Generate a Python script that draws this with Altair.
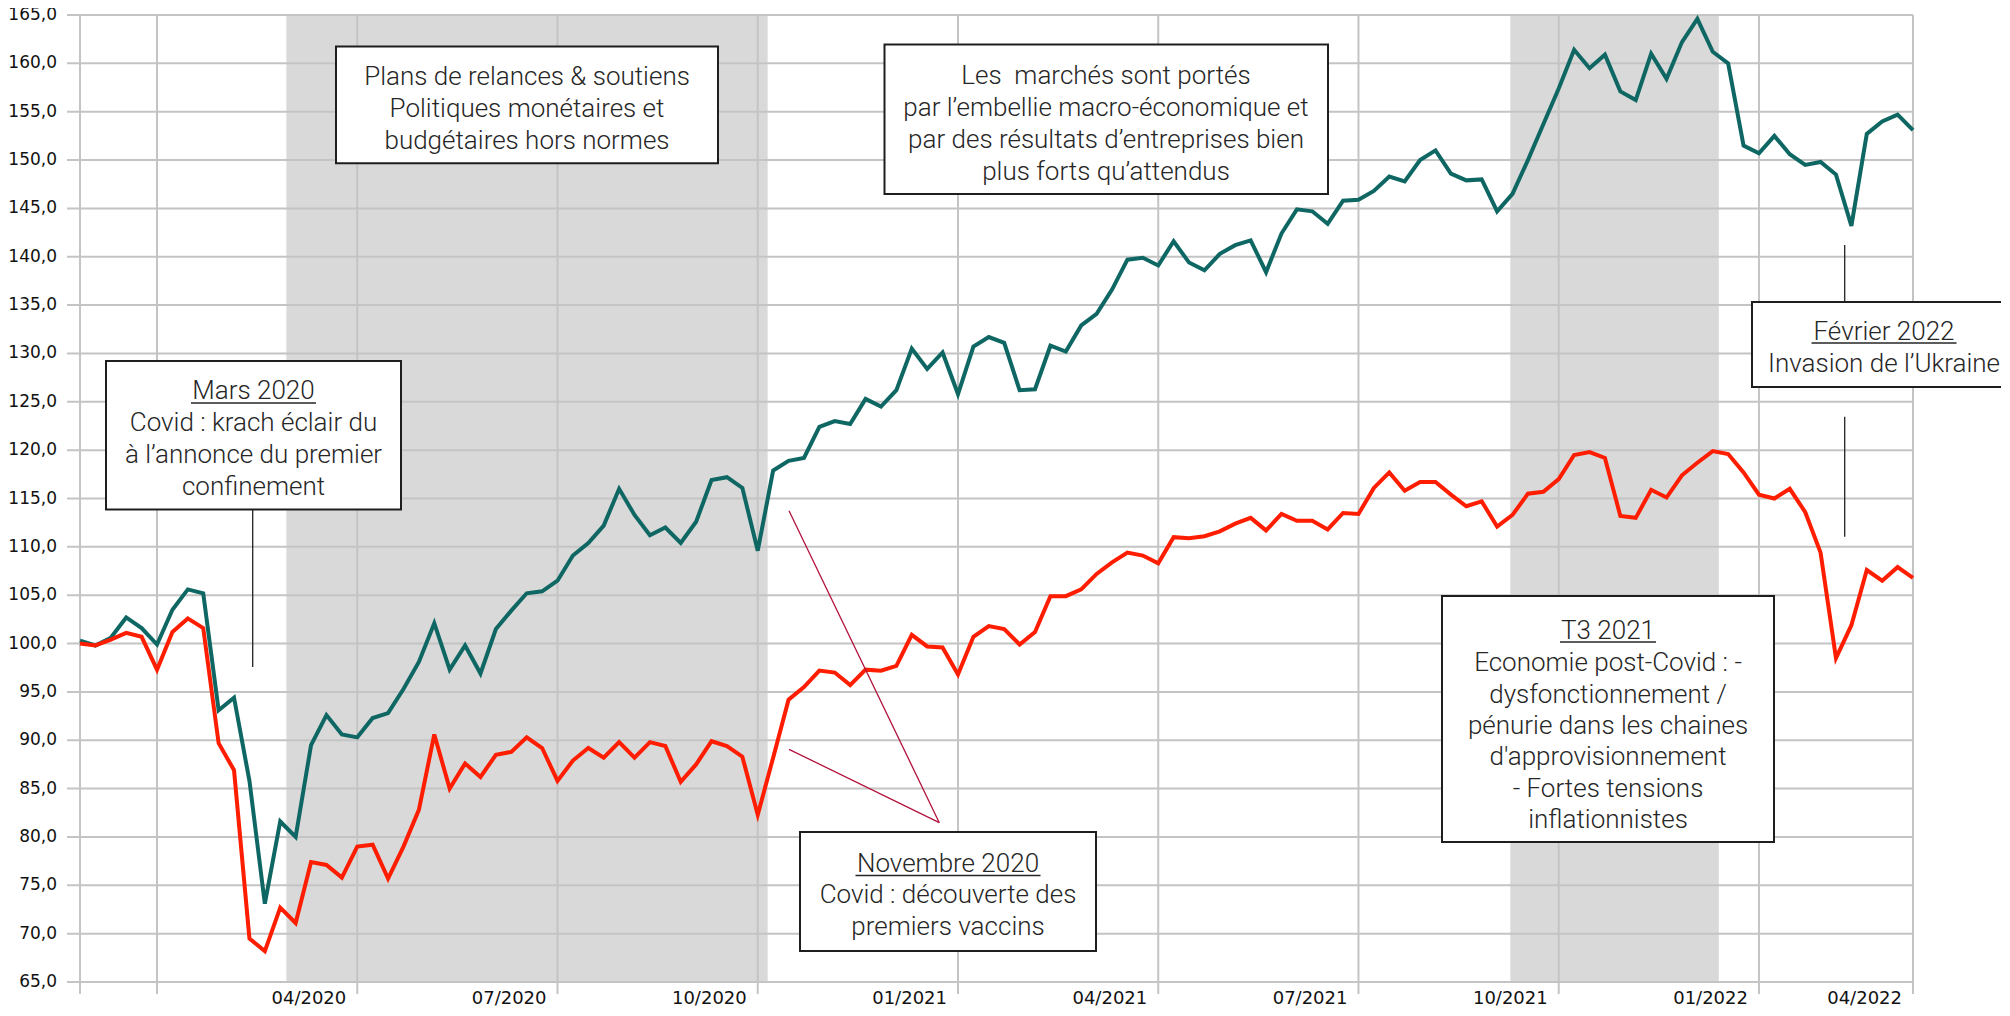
import altair as alt
import pandas as pd

# ---------------- data ----------------
START = "2019-12-27"
teal_values = [
    100.3, 99.8, 100.6, 102.7, 101.6, 99.9, 103.5, 105.6, 105.2, 93.1,
    94.4, 85.8, 73.1, 81.6, 80.0, 89.5, 92.6, 90.6, 90.3, 92.3,
    92.8, 95.3, 98.1, 102.1, 97.3, 99.8, 96.9, 101.5, 103.4, 105.2,
    105.4, 106.5, 109.1, 110.4, 112.2, 116.0, 113.3, 111.2, 112.0, 110.4,
    112.6, 116.9, 117.2, 116.1, 109.6, 117.9, 118.9, 119.2, 122.4, 123.0,
    122.7, 125.3, 124.5, 126.2, 130.5, 128.4, 130.1, 125.8, 130.7, 131.7,
    131.1, 126.2, 126.3, 130.8, 130.2, 132.9, 134.1, 136.6, 139.7, 139.9,
    139.1, 141.6, 139.4, 138.6, 140.3, 141.2, 141.7, 138.4, 142.4, 144.9,
    144.7, 143.4, 145.8, 145.9, 146.8, 148.3, 147.8, 150.0, 151.0, 148.6,
    147.9, 148.0, 144.7, 146.5, 150.0, 153.7, 157.4, 161.4, 159.5, 160.9,
    157.1, 156.2, 161.0, 158.4, 162.2, 164.6, 161.2, 160.0, 151.5, 150.7,
    152.5, 150.6, 149.5, 149.8, 148.5, 143.2, 152.7, 154.0, 154.7, 153.1,
]
red_values = [
    100.0, 99.8, 100.4, 101.1, 100.7, 97.3, 101.2, 102.6, 101.6, 89.7,
    86.9, 69.5, 68.2, 72.7, 71.1, 77.4, 77.1, 75.8, 79.0, 79.2,
    75.7, 79.0, 82.8, 90.6, 85.0, 87.6, 86.2, 88.5, 88.8, 90.3,
    89.2, 85.8, 87.9, 89.2, 88.2, 89.8, 88.2, 89.8, 89.4, 85.7,
    87.5, 89.9, 89.4, 88.3, 82.3, 88.2, 94.2, 95.5, 97.2, 97.0,
    95.7, 97.3, 97.2, 97.7, 100.9, 99.7, 99.6, 96.8, 100.7, 101.8,
    101.5, 99.9, 101.2, 104.9, 104.9, 105.6, 107.2, 108.4, 109.4, 109.1,
    108.3, 111.0, 110.9, 111.1, 111.6, 112.4, 113.0, 111.7, 113.4, 112.7,
    112.7, 111.8, 113.5, 113.4, 116.1, 117.7, 115.8, 116.7, 116.7, 115.4,
    114.2, 114.7, 112.1, 113.3, 115.5, 115.7, 117.0, 119.5, 119.8, 119.2,
    113.2, 113.0, 115.9, 115.1, 117.4, 118.7, 119.9, 119.6, 117.7, 115.4,
    115.0, 116.0, 113.6, 109.4, 98.5, 101.9, 107.6, 106.5, 107.9, 106.8,
]
series_names = ["Série 1", "Série 2"]

grid_dates = ["2019-12-27", "2020-01-31", "2020-05-01", "2020-07-31", "2020-10-30",
              "2021-01-29", "2021-04-30", "2021-07-30", "2021-10-29", "2022-01-28",
              "2022-04-08"]
tick_labels = ["", "", "04/2020", "07/2020", "10/2020", "01/2021", "04/2021",
               "07/2021", "10/2021", "01/2022", "04/2022"]
y_ticks = list(range(65, 170, 5))

shade_start = ["2020-03-29T19:00:00", "2021-10-07T00:00:00"]
shade_end = ["2020-11-03T12:00:00", "2022-01-09T18:00:00"]

# ---------------- tables ----------------
dates = pd.date_range(START, periods=len(teal_values), freq="7D").strftime("%Y-%m-%dT00:00:00")
series_df = pd.DataFrame({
    "date": list(dates) * 2,
    "v": teal_values + red_values,
    "s": [series_names[0]] * len(teal_values) + [series_names[1]] * len(red_values),
})
grid_df = pd.DataFrame({"d": [g + "T00:00:00" for g in grid_dates], "label": tick_labels})
ygrid_df = pd.DataFrame({"v": y_ticks})
shade_df = pd.DataFrame({"start": shade_start, "end": shade_end})

# ---------------- layout / style ----------------
W, H = 1833, 967
GRID = "#c4c4c4"
TEAL = "#0f6764"
RED = "#ff1d00"
TXT = "#262626"
AXFONT = "DejaVu Sans"

x_scale = alt.Scale(domain=[alt.DateTime(year=2019, month=12, date=27),
                            alt.DateTime(year=2022, month=4, date=8)], nice=False)
y_scale = alt.Scale(domain=[65, 165], nice=False, zero=False)

shade = alt.Chart(shade_df).mark_rect(color="#d9d9d9").encode(
    x=alt.X("start:T", scale=x_scale, axis=None), x2="end:T",
    y=alt.value(0), y2=alt.value(H))

# horizontal gridlines (extend left of the plot as tick marks)
hgrid = alt.Chart(ygrid_df).mark_rule(color=GRID, strokeWidth=2).encode(
    y=alt.Y("v:Q", scale=y_scale, axis=None),
    x=alt.value(-13), x2=alt.value(W))

# vertical gridlines (extend below the plot as tick marks)
vgrid = alt.Chart(grid_df).mark_rule(color=GRID, strokeWidth=2).encode(
    x=alt.X("d:T", scale=x_scale, axis=None), y=alt.value(0), y2=alt.value(H + 12))

ylabels = alt.Chart(ygrid_df).transform_calculate(
    lbl="replace(format(datum.v, '.1f'), '.', ',')"
).mark_text(align="right", baseline="middle", font=AXFONT, fontSize=17,
            color="#111111").encode(
    y=alt.Y("v:Q", scale=y_scale, axis=None), x=alt.value(-23), text="lbl:N")

def line_layer(name, color):
    return alt.Chart(series_df).transform_filter(alt.datum.s == name).mark_line(
        color=color, strokeWidth=4, strokeJoin="miter").encode(
        x=alt.X("date:T", scale=x_scale, axis=None),
        y=alt.Y("v:Q", scale=y_scale, axis=None))

teal_line = line_layer(series_names[0], TEAL)
red_line = line_layer(series_names[1], RED)

xlabels = alt.Chart(grid_df).mark_text(
    align="right", baseline="alphabetic", dx=-11, font=AXFONT, fontSize=18,
    color="#111111").encode(
    x=alt.X("d:T", scale=x_scale, axis=None), y=alt.value(H + 22), text="label:N")

# ---------------- annotations (pixel positions in the plot area) ----------------
boxes = pd.DataFrame([
    dict(x1=26, x2=321, y1=346, y2=494.5),     # Mars 2020
    dict(x1=256, x2=638, y1=31.5, y2=148.3),   # Plans de relances
    dict(x1=804.5, x2=1248, y1=29.5, y2=179),  # Les marchés
    dict(x1=720, x2=1016, y1=817, y2=936),     # Novembre 2020
    dict(x1=1362, x2=1694, y1=581, y2=827),    # T3 2021
    dict(x1=1672, x2=1960, y1=287, y2=372),    # Février 2022
])

texts = pd.DataFrame([
    dict(x=173.5, y=376, t="Mars 2020"),
    dict(x=173.5, y=408, t="Covid : krach éclair du"),
    dict(x=173.5, y=440, t="à l’annonce du premier"),
    dict(x=173.5, y=472, t="confinement"),
    dict(x=447, y=62, t="Plans de relances & soutiens"),
    dict(x=447, y=94, t="Politiques monétaires et"),
    dict(x=447, y=126, t="budgétaires hors normes"),
    dict(x=1026, y=61, t="Les\u00a0 marchés sont portés"),
    dict(x=1026, y=93, t="par l’embellie macro-économique et"),
    dict(x=1026, y=125, t="par des résultats d’entreprises bien"),
    dict(x=1026, y=157, t="plus forts qu’attendus"),
    dict(x=868, y=849, t="Novembre 2020"),
    dict(x=868, y=880, t="Covid : découverte des"),
    dict(x=868, y=912, t="premiers vaccins"),
    dict(x=1528, y=616, t="T3 2021"),
    dict(x=1528, y=648, t="Economie post-Covid : -"),
    dict(x=1528, y=680, t="dysfonctionnement /"),
    dict(x=1528, y=711, t="pénurie dans les chaines"),
    dict(x=1528, y=742, t="d'approvisionnement"),
    dict(x=1528, y=774, t="- Fortes tensions"),
    dict(x=1528, y=805, t="inflationnistes"),
    dict(x=1804, y=317, t="Février 2022"),
    dict(x=1804, y=349, t="Invasion de l’Ukraine"),
])

underlines = pd.DataFrame([
    dict(x1=111, x2=236, y=388),
    dict(x1=775.5, x2=960.5, y=860.5),
    dict(x1=1480, x2=1576, y=627),
    dict(x1=1731.5, x2=1876.5, y=328),
])

connectors = pd.DataFrame([
    dict(x1=172.7, y1=494.5, x2=172.7, y2=652, c="#222222"),
    dict(x1=859.3, y1=807.7, x2=709, y2=495.7, c="#b3123c"),
    dict(x1=859.3, y1=807.7, x2=709, y2=734.3, c="#b3123c"),
    dict(x1=1764.7, y1=230, x2=1764.7, y2=287, c="#222222"),
    dict(x1=1764.7, y1=401.7, x2=1764.7, y2=521.7, c="#222222"),
])

box_layer = alt.Chart(boxes).mark_rect(fill="white", stroke="#1e1e1e", strokeWidth=2).encode(
    x=alt.X("x1:Q", scale=None), x2="x2:Q",
    y=alt.Y("y1:Q", scale=None), y2="y2:Q")

text_layer = alt.Chart(texts).mark_text(
    font="Roboto", fontWeight=300, fontSize=26, color=TXT,
    align="center", baseline="middle").encode(
    x=alt.X("x:Q", scale=None), y=alt.Y("y:Q", scale=None), text="t:N")

underline_layer = alt.Chart(underlines).mark_rule(color=TXT, strokeWidth=1.5).encode(
    x=alt.X("x1:Q", scale=None), x2="x2:Q", y=alt.Y("y:Q", scale=None))

connector_layer = alt.Chart(connectors).mark_rule(strokeWidth=1.3).encode(
    x=alt.X("x1:Q", scale=None), x2="x2:Q",
    y=alt.Y("y1:Q", scale=None), y2="y2:Q",
    color=alt.Color("c:N", scale=None))

chart = alt.layer(
    shade, hgrid, vgrid, ylabels, teal_line, red_line, xlabels,
    connector_layer, box_layer, underline_layer, text_layer,
).properties(
    width=W, height=H,
    autosize=alt.AutoSizeParams(type="none"),
    padding={"left": 72, "top": 7, "right": 88, "bottom": 26},
).configure_view(stroke=None)

chart.save("out.html", embed_options={"renderer": "svg", "actions": False})
